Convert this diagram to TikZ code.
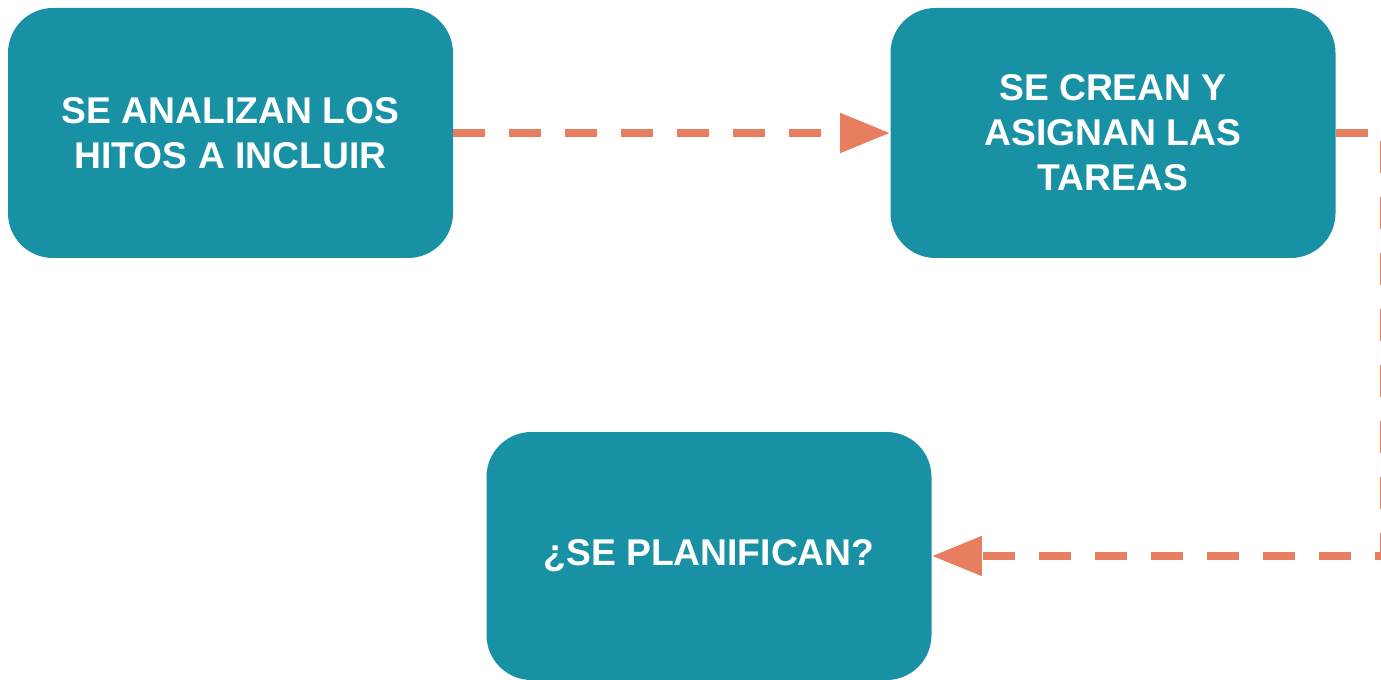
\documentclass[tikz,border=0pt]{standalone}
\usepackage{fontspec}
\setmainfont{Liberation Sans}
\usetikzlibrary{arrows.meta}
\definecolor{boxteal}{HTML}{1891A5}
\definecolor{linkorange}{HTML}{E67E5F}
\begin{document}
\begin{tikzpicture}[
        stepbox/.style={fill=boxteal,rounded corners=0.9cm,minimum width=8.9cm,minimum height=5cm,
            text=white,align=center,font=\fontsize{21.2}{25.6}\selectfont\bfseries},
        link/.style={draw=linkorange,line width=0.16cm,dash pattern=on 0.64cm off 0.48cm,
            -{Triangle[length=1cm,width=0.76cm,fill=linkorange]}}
    ]
        \useasboundingbox (0,0) rectangle (27.62,-13.6);
        % draw the boxes
        \node[stepbox] (hitos) at (4.61,-2.66) {SE ANALIZAN LOS\\HITOS A INCLUIR};
        \node[stepbox] (tareas) at (22.26,-2.66) {SE CREAN Y\\ASIGNAN LAS\\TAREAS};
        \node[stepbox,minimum height=4.96cm] (planifican) at (14.18,-11.12) {¿SE PLANIFICAN?};
        % draw the connectors
        \coordinate (turn) at (27.68,-2.66);
        \draw[link] (hitos.east) -- (tareas.west);
        \draw[link] (tareas.east) -- (turn) |- (planifican.east);
    \end{tikzpicture}
\end{document}
